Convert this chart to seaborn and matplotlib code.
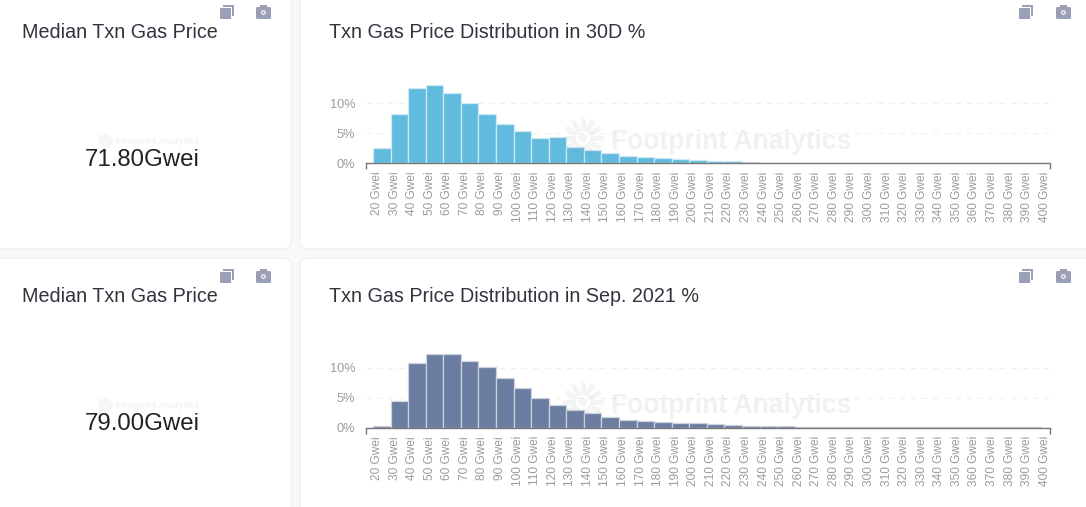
import matplotlib
matplotlib.use("Agg")
import matplotlib.pyplot as plt
from matplotlib.patches import FancyBboxPatch, Rectangle, Polygon, Circle
from matplotlib.transforms import ScaledTranslation
import numpy as np
import seaborn as sns

# bin edges, labels are on the left edge of each bar
gwei = [20, 30, 40, 50, 60, 70, 80, 90, 100, 110, 120, 130, 140, 150, 160, 170, 180, 190, 200, 210,
        220, 230, 240, 250, 260, 270, 280, 290, 300, 310, 320, 330, 340, 350, 360, 370, 380, 390, 400]
tick_labels = [str(g) + " Gwei" for g in gwei]

pct_30d = [2.5, 8.2, 12.6, 13.0, 11.7, 10.0, 8.2, 6.55, 5.45, 4.2, 4.35, 2.7, 2.15, 1.8, 1.2, 1.05, 0.9, 0.7, 0.55,
           0.4, 0.35, 0.3, 0.1, 0.1, 0.1, 0.08, 0.08, 0.08, 0.08, 0.08, 0.08, 0.08, 0.08, 0.08, 0.08, 0.08, 0.08, 0.08]
pct_sep = [0.35, 4.4, 10.8, 12.3, 12.3, 11.15, 10.05, 8.2, 6.55, 4.95, 3.85, 2.9, 2.4, 1.8, 1.3, 1.1, 0.9, 0.7, 0.7,
           0.55, 0.4, 0.35, 0.35, 0.35, 0.08, 0.08, 0.08, 0.08, 0.08, 0.08, 0.08, 0.08, 0.08, 0.08, 0.08, 0.08, 0.08, 0.08]

W, H = 1086, 507
TITLE_COL = "#33333f"
GREY = "#9b9b9b"
ICON = "#9a9fb3"

sns.set_theme(style="white")
plt.rcParams["font.family"] = ["Liberation Sans", "DejaVu Sans"]

fig = plt.figure(figsize=(W / 100, H / 100), dpi=100, facecolor="#f8f9fb")

# background in pixel coordinates, for the cards and icons
bg = fig.add_axes([0, 0, 1, 1], zorder=0)
bg.set_xlim(0, W)
bg.set_ylim(H, 0)
bg.axis("off")


def card(x0, y0, x1, y1):
    bg.add_patch(FancyBboxPatch((x0, y0), x1 - x0, y1 - y0, boxstyle="round,pad=0,rounding_size=8",
                                fc="white", ec="#f1f2f4", lw=1.2))


def icons(x_copy, x_cam, y):
    bg.add_patch(Polygon([(x_copy + 3, y), (x_copy + 14, y), (x_copy + 14, y + 11), (x_copy + 12, y + 11),
                          (x_copy + 12, y + 2), (x_copy + 3, y + 2)], fc=ICON, ec="none"))
    bg.add_patch(Rectangle((x_copy, y + 3), 11, 11, fc=ICON, ec="none"))
    bg.add_patch(FancyBboxPatch((x_cam, y + 2), 15, 12, boxstyle="round,pad=0,rounding_size=1.5", fc=ICON, ec="none"))
    bg.add_patch(Rectangle((x_cam + 4, y), 7, 3, fc=ICON, ec="none"))
    bg.add_patch(Circle((x_cam + 7.5, y + 7.5), 1.8, fc="none", ec="white", lw=0.8))


card(-20, -20, 291.5, 249)
card(300, -20, 1110, 249)
card(-20, 258, 291.5, 530)
card(300, 258, 1110, 530)

for y in [5, 269]:
    icons(220, 256, y)
    icons(1019, 1056, y)

rows = [
    {"vals": pct_30d, "col": "#61bbde", "edge": "#cfeaf5", "top": 79.3, "base": 163.3,
     "title": "Txn Gas Price Distribution in 30D %", "tit_y": 32.5, "median": "71.80Gwei", "med_y": 159.5},
    {"vals": pct_sep, "col": "#6b7da0", "edge": "#cdd2de", "top": 343.7, "base": 427.7,
     "title": "Txn Gas Price Distribution in Sep. 2021 %", "tit_y": 296.5, "median": "79.00Gwei", "med_y": 423.5},
]

x_left = 15.85
x_right = 405.3

for r in rows:
    ax = fig.add_axes([365.7 / W, 1 - r["base"] / H, (1050 - 365.7) / W, (r["base"] - r["top"]) / H],
                      zorder=1, facecolor="none")
    sns.histplot(x=gwei[:-1], weights=r["vals"], bins=gwei, color=r["col"], edgecolor=r["edge"],
                 linewidth=0.9, alpha=1, ax=ax)
    ax.set_xlim(x_left, x_right)
    ax.set_ylim(0, 14)
    ax.set_xlabel("")
    ax.set_ylabel("")
    sns.despine(ax=ax, left=True)
    ax.spines["bottom"].set_color("#777777")
    ax.spines["bottom"].set_linewidth(1)

    ax.set_yticks([0, 5, 10])
    ax.set_yticklabels(["0%", "5%", "10%"], fontsize=9.2, color=GREY)
    ax.tick_params(axis="y", length=0, pad=7.5)
    ax.grid(axis="y", color="#f0f0f0", linestyle=(0, (5, 5)), linewidth=0.8)
    ax.set_axisbelow(True)

    ax.set_xticks(gwei)
    ax.set_xticklabels(tick_labels, rotation=90, fontsize=8.6, color=GREY, va="top", ha="center")
    ax.tick_params(axis="x", which="major", length=0, pad=6)
    # labels sit a little right of the bar edge in the original
    shift = ScaledTranslation(4 / 100, 0, fig.dpi_scale_trans)
    for lab in ax.get_xticklabels():
        lab.set_transform(lab.get_transform() + shift)
    ax.set_xticks([x_left, x_right], minor=True)
    ax.tick_params(axis="x", which="minor", bottom=True, length=4.5, width=1, color="#777777")

    bg.text(329, r["tit_y"], r["title"], fontsize=14.2, color=TITLE_COL, va="center", ha="left")
    bg.text(22, r["tit_y"], "Median Txn Gas Price", fontsize=14.2, color=TITLE_COL, va="center", ha="left")
    bg.text(142, r["med_y"], r["median"], fontsize=17.3, color="#222222", va="center", ha="center")

# watermark goes over the bars
over = fig.add_axes([0, 0, 1, 1], zorder=3, facecolor="none")
over.set_xlim(0, W)
over.set_ylim(H, 0)
over.axis("off")


def watermark(cx, cy, size, text_x, text_y, fontsize):
    for a in np.arange(0, 360, 30):
        ca, sa = np.cos(np.radians(a)), np.sin(np.radians(a))
        over.plot([cx + ca * size * 0.5, cx + ca * size], [cy + sa * size * 0.5, cy + sa * size],
                  color="#808890", alpha=0.09, lw=size * 0.2, solid_capstyle="round")
    over.add_patch(Circle((cx, cy), size * 0.25, fc="#808890", ec="none", alpha=0.09))
    over.text(text_x, text_y, "Footprint Analytics", fontsize=fontsize, fontweight="bold", color="#808890",
              alpha=0.11, va="center", ha="left")


for y in [138, 402]:
    watermark(583, y, 18, 611, y + 4, 19.1)
for y in [141, 405]:
    watermark(105, y, 7, 116, y, 6.6)

fig.savefig("out.png", dpi=100, facecolor=fig.get_facecolor())
